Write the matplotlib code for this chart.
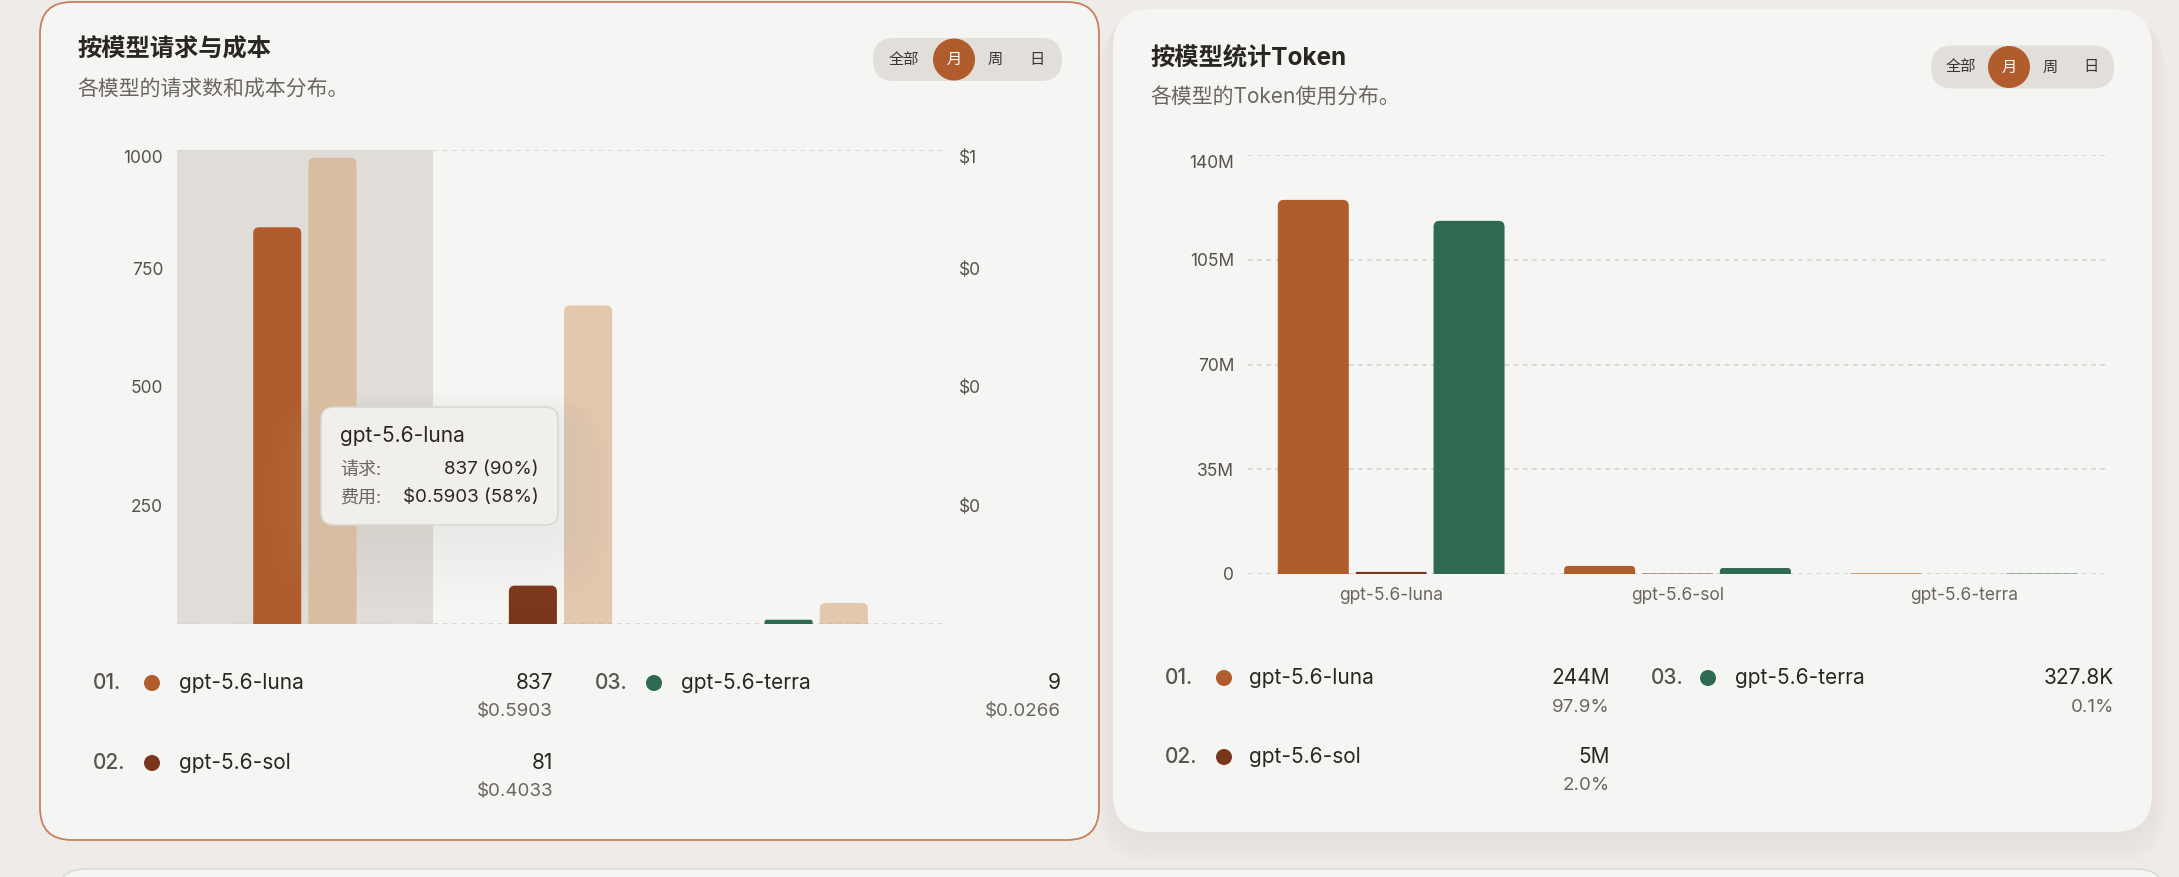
import matplotlib
matplotlib.use('Agg')
import matplotlib.pyplot as plt
from matplotlib.patches import FancyBboxPatch, PathPatch, Circle
from matplotlib.path import Path
from matplotlib.ticker import FixedLocator, FuncFormatter
from matplotlib.transforms import ScaledTranslation

# --- 데이터 ---
models = ['gpt-5.6-luna', 'gpt-5.6-sol', 'gpt-5.6-terra']
requests = [837, 81, 9]
costs = [0.5903, 0.4033, 0.0266]

# token chart: three series per model (millions)
tok_a = [125.0, 2.7, 0.18]
tok_b = [0.7, 0.15, 0.01]
tok_c = [118.0, 2.0, 0.14]
token_totals = ['244M', '5M', '327.8K']
token_shares = ['97.9%', '2.0%', '0.1%']

model_colors = ['#B05C2C', '#7A361D', '#2D6A4F']
cost_color = '#D4A373'
period_opts = ['全部', '月', '周', '日']

W, H = 2179, 877
FONT = ['Inter', 'Noto Sans CJK SC', 'DejaVu Sans']
plt.rcParams['font.family'] = FONT

fig = plt.figure(figsize=(W / 100, H / 100), dpi=100)
fig.patch.set_facecolor('#EEEBE8')


def px_axes(x0, y0, x1, y1):
    return fig.add_axes([x0 / W, 1 - y1 / H, (x1 - x0) / W, (y1 - y0) / H])


def overlay():
    a = fig.add_axes([0, 0, 1, 1])
    a.set_xlim(0, W); a.set_ylim(H, 0); a.axis('off')
    a.patch.set_alpha(0)
    return a


def round_top(ax, bars, r_px, wpx, hpx, color, alpha=1.0):
    # ax.bar 로 그린 막대를 윗모서리만 둥글게 다시 그림
    x0, x1 = ax.get_xlim(); y0, y1 = ax.get_ylim()
    xu = (x1 - x0) / wpx; yu = (y1 - y0) / hpx
    for b in bars:
        x, y, w, h = b.get_x(), b.get_y(), b.get_width(), b.get_height()
        b.remove()
        r = min(r_px, h / yu / 2, w / xu / 2)
        rx, ry = r * xu, r * yu
        verts = [(x, y), (x, y + h - ry), (x, y + h), (x + rx, y + h),
                 (x + w - rx, y + h), (x + w, y + h), (x + w, y + h - ry),
                 (x + w, y), (x, y)]
        codes = [Path.MOVETO, Path.LINETO, Path.CURVE3, Path.CURVE3,
                 Path.LINETO, Path.CURVE3, Path.CURVE3, Path.LINETO, Path.CLOSEPOLY]
        ax.add_patch(PathPatch(Path(verts, codes), fc=color, ec='none', alpha=alpha, zorder=3))


def nudge_top_label(axis, right=False):
    # 맨 위 눈금 라벨은 살짝 아래로
    t = axis.get_major_ticks()[-1]
    lab = t.label2 if right else t.label1
    lab.set_transform(lab.get_transform() + ScaledTranslation(0, -0.065, fig.dpi_scale_trans))


# --- cards ---
bg = overlay()
for i in range(8):
    bg.add_patch(FancyBboxPatch((1113 - i * 2, 9 + i * 1.5), 1039 + i * 4, 823 + i * 3,
                                boxstyle=f'round,pad=0,rounding_size={38 + i * 2}',
                                fc='#D9D3CE', ec='none', alpha=0.05))
bg.add_patch(FancyBboxPatch((40, 2), 1059, 838, boxstyle='round,pad=0,rounding_size=32',
                            fc='#F5F5F3', ec='#C8805C', lw=1.3))
bg.add_patch(FancyBboxPatch((1113, 9), 1039, 823, boxstyle='round,pad=0,rounding_size=38',
                            fc='#F5F5F3', ec='none'))
bg.add_patch(FancyBboxPatch((56, 869), 2110, 200, boxstyle='round,pad=0,rounding_size=30',
                            fc='#F5F5F3', ec='#DAD6D2', lw=1))

# --- left chart: requests & cost ---
L = (177, 150, 944, 624)
ax_l = px_axes(*L)
ax_l.set_facecolor('none')
ax_l.set_xlim(-0.5, 2.5); ax_l.set_ylim(0, 1000)
ax_l.axvspan(-0.5, 0.5, color='#E0DDD8', zorder=0, lw=0)
xs = list(range(len(models)))
bw, off = 0.188, 0.108
b_req = ax_l.bar([x - off for x in xs], requests, bw, color=model_colors)
for yv in (0, 1000):
    ax_l.axhline(yv, color='#D3D0CC', lw=1.1, ls=(0, (3, 3)), zorder=1)
ax_l.yaxis.set_major_locator(FixedLocator([250, 500, 750, 1000]))
ax_l.tick_params(axis='y', length=0, pad=10, labelsize=12.5, labelcolor='#57524D')
ax_l.set_xticks([])
for s in ax_l.spines.values():
    s.set_visible(False)

ax_c = ax_l.twinx()
ax_c.set_ylim(0, 0.6)
b_cost = ax_c.bar([x + off for x in xs], costs, bw, color=cost_color)
ax_c.yaxis.set_major_locator(FixedLocator([0.15, 0.3, 0.45, 0.6]))
ax_c.yaxis.set_major_formatter(FuncFormatter(lambda v, p: f'${v:.0f}'))
ax_c.tick_params(axis='y', length=0, pad=11, labelsize=12.5, labelcolor='#57524D')
for s in ax_c.spines.values():
    s.set_visible(False)

wl, hl = L[2] - L[0], L[3] - L[1]
for b, c in zip(b_req, model_colors):
    round_top(ax_l, [b], 6, wl, hl, c)
round_top(ax_c, list(b_cost), 6, wl, hl, cost_color, alpha=0.55)
nudge_top_label(ax_l.yaxis)
nudge_top_label(ax_c.yaxis, right=True)

# --- right chart: tokens ---
R = (1248, 155, 2107, 574)
ax_r = px_axes(*R)
ax_r.set_facecolor('none')
ax_r.set_xlim(-0.5, 2.5); ax_r.set_ylim(0, 140)
tw, toff = 0.248, 0.272
wr, hr = R[2] - R[0], R[3] - R[1]
for k, series in enumerate([tok_a, tok_b, tok_c]):
    bars = ax_r.bar([x + (k - 1) * toff for x in xs], series, tw, color=model_colors[k])
    round_top(ax_r, list(bars), 6, wr, hr, model_colors[k])
ticks_r = [0, 35, 70, 105, 140]
for yv in ticks_r:
    ax_r.axhline(yv, color='#D3D0CC', lw=1.1, ls=(0, (3, 3)), zorder=1)
ax_r.yaxis.set_major_locator(FixedLocator(ticks_r))
ax_r.yaxis.set_major_formatter(FuncFormatter(lambda v, p: '0' if v == 0 else f'{v:.0f}M'))
ax_r.set_xticks(xs)
ax_r.set_xticklabels(models)
ax_r.tick_params(axis='y', length=0, pad=10, labelsize=12.5, labelcolor='#57524D')
ax_r.tick_params(axis='x', length=0, pad=9, labelsize=12.5, labelcolor='#6B6560')
for s in ax_r.spines.values():
    s.set_visible(False)
nudge_top_label(ax_r.yaxis)

# --- text overlay ---
top = overlay()


def header(x, y, title, sub):
    top.text(x, y, title, fontsize=17.5, fontweight='bold', color='#2A2622', va='center')
    top.text(x, y + 40, sub, fontsize=15, color='#6B6560', va='center')


def pill(x0, x1, yc, cx):
    top.add_patch(FancyBboxPatch((x0, yc - 21.5), x1 - x0, 43, boxstyle='round,pad=0,rounding_size=21.5',
                                 fc='#E2DED9', ec='none'))
    top.add_patch(Circle((cx[1], yc), 21, fc='#B05C2C', ec='none'))
    for i, (o, x) in enumerate(zip(period_opts, cx)):
        top.text(x, yc, o, fontsize=11, ha='center', va='center',
                 color='white' if i == 1 else '#3A3530')


header(77, 50, '按模型请求与成本', '各模型的请求数和成本分布。')
header(1150, 58, '按模型统计Token', '各模型的Token使用分布。')
pill(873, 1062, 59.5, [904, 954, 995, 1037])
pill(1931, 2114, 67, [1961, 2009, 2050, 2091])


def legend_item(n, x_num, x_dot, x_name, x_val, y, main, sub, color):
    top.text(x_num, y, f'{n:02d}.', fontsize=15, color='#58534E', va='center', fontweight='medium')
    top.add_patch(Circle((x_dot, y), 8, fc=color, ec='none'))
    top.text(x_name, y, models[n - 1], fontsize=15, color='#2A2622', va='center')
    top.text(x_val, y, main, fontsize=15, color='#2A2622', va='center', ha='right')
    top.text(x_val, y + 29, sub, fontsize=13.5, color='#6B6560', va='center', ha='right')


cols_l = [(93, 152, 179, 553), (595, 654, 681, 1061)]
cols_r = [(1165, 1224, 1249, 1610), (1651, 1708, 1735, 2114)]
slots_l = [(0, 683), (0, 763), (1, 683)]
slots_r = [(0, 678), (0, 757), (1, 678)]
for i in range(len(models)):
    c, y = slots_l[i]
    legend_item(i + 1, *cols_l[c], y, f'{requests[i]}', f'${costs[i]:.4f}', model_colors[i])
    c, y = slots_r[i]
    legend_item(i + 1, *cols_r[c], y, token_totals[i], token_shares[i], model_colors[i])

# --- tooltip ---
for i in range(12):
    top.add_patch(FancyBboxPatch((321 - i * 5, 414 - i * 2), 237 + i * 10, 116 + i * 9,
                                 boxstyle=f'round,pad=0,rounding_size={14 + i * 6}',
                                 fc='#D8C3B5', ec='none', alpha=0.012))
top.add_patch(FancyBboxPatch((321, 407), 237, 118, boxstyle='round,pad=0,rounding_size=13',
                             fc='#F0EFEC', ec='#DAD7D3', lw=1.1))
req_pct = requests[0] / sum(requests) * 100
cost_pct = costs[0] / sum(costs) * 100
top.text(340, 436, models[0], fontsize=15, color='#2A2622', va='center')
top.text(340, 470, '请求:', fontsize=13, color='#6B6560', va='center')
top.text(340, 498, '费用:', fontsize=13, color='#6B6560', va='center')
top.text(539, 470, f'{requests[0]} ({req_pct:.0f}%)', fontsize=13.5, color='#2A2622', va='center', ha='right')
top.text(539, 498, f'${costs[0]:.4f} ({cost_pct:.0f}%)', fontsize=13.5, color='#2A2622', va='center', ha='right')

fig.savefig('out.png', dpi=100, facecolor=fig.get_facecolor())
